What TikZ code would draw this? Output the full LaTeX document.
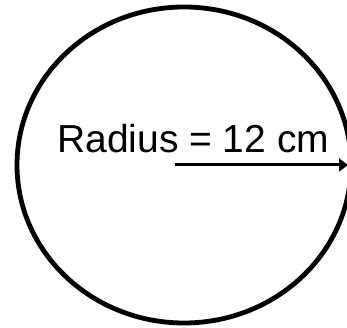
\documentclass[tikz,border=0pt]{standalone}
\usepackage{fontspec}
\setmainfont{Liberation Sans}
\usetikzlibrary{arrows.meta}
\begin{document}
\begin{tikzpicture}[x=1pt,y=1pt,
  rim/.style={draw=black,line width=4.8pt},
  radarrow/.style={draw=black,line width=3pt,-{Triangle[length=9pt,width=13pt]}},
  lbl/.style={inner sep=0pt,anchor=base west,font=\fontsize{39}{44}\selectfont}]
\useasboundingbox (0,0) rectangle (347,328);
\clip (0,0) rectangle (347,328);
\path[rim] (184,163) ellipse [x radius=167, y radius=158];
\coordinate (c) at (175,163);
\coordinate (e) at (348,163);
\draw[radarrow] (c) -- (e);
\node[lbl] (t) at (57,175) {Radius = 12 cm};
\end{tikzpicture}
\end{document}
